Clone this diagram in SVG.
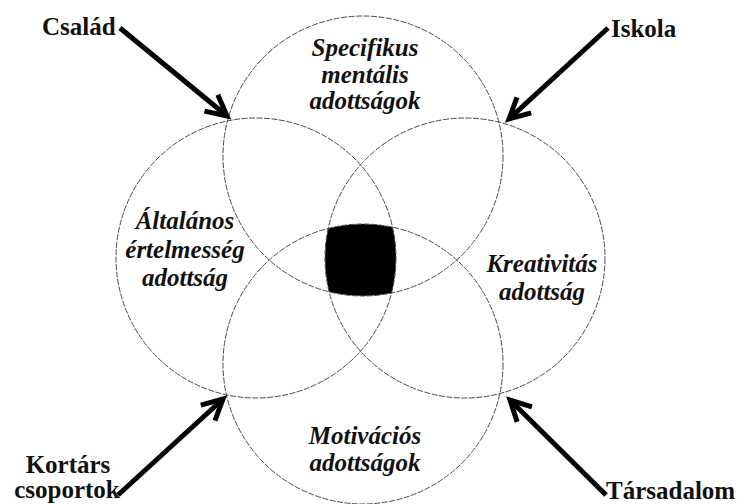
<svg xmlns="http://www.w3.org/2000/svg" width="742" height="504" viewBox="0 0 742 504">
  <style>
    .ring { fill: none; stroke: #4a4a4a; stroke-width: 1; stroke-dasharray: 6 1.5; }
    .inner { font-family: "Liberation Serif", "Times New Roman", serif; font-size: 25px; font-weight: bold; font-style: italic; fill: #111; text-anchor: middle; }
    .outer { font-family: "Liberation Serif", "Times New Roman", serif; font-size: 25px; font-weight: bold; fill: #111; }
    .arrow { fill: none; stroke: #000; stroke-width: 5; marker-end: url(#chev); }
  </style>
  <defs>
    <marker id="chev" markerUnits="userSpaceOnUse" markerWidth="40" markerHeight="40" refX="0" refY="0" orient="auto" viewBox="-30 -20 40 40" overflow="visible">
      <path d="M -20.5 -10.5 L 0 0 L -20.5 10.5" fill="none" stroke="#000" stroke-width="5" stroke-linejoin="miter" stroke-miterlimit="10"/>
    </marker>
    <clipPath id="clipTop"><circle cx="363" cy="156" r="140"/></clipPath>
    <clipPath id="clipLeft"><circle cx="256" cy="258" r="140"/></clipPath>
    <clipPath id="clipRight"><circle cx="465" cy="258" r="140"/></clipPath>
  </defs>
  <rect width="742" height="504" fill="#fff"/>

  <g id="core">
    <g clip-path="url(#clipTop)"><g clip-path="url(#clipLeft)"><g clip-path="url(#clipRight)">
      <circle cx="363" cy="364" r="140" fill="#000"/>
    </g></g></g>
  </g>

  <g id="specifikus">
    <circle class="ring" cx="363" cy="156" r="140"/>
    <text class="inner" x="365" y="56">Specifikus</text>
    <text class="inner" x="365" y="83">mentális</text>
    <text class="inner" x="365" y="109">adottságok</text>
  </g>
  <g id="altalanos">
    <circle class="ring" cx="256" cy="258" r="140"/>
    <text class="inner" x="185" y="229">Általános</text>
    <text class="inner" x="185" y="258">értelmesség</text>
    <text class="inner" x="185" y="286">adottság</text>
  </g>
  <g id="kreativitas">
    <circle class="ring" cx="465" cy="258" r="140"/>
    <text class="inner" x="542" y="272">Kreativitás</text>
    <text class="inner" x="542" y="300">adottság</text>
  </g>
  <g id="motivacios">
    <circle class="ring" cx="363" cy="364" r="140"/>
    <text class="inner" x="365" y="444">Motivációs</text>
    <text class="inner" x="365" y="471">adottságok</text>
  </g>

  <g id="csalad"><text class="outer" x="42" y="35">Család</text></g>
  <g id="iskola"><text class="outer" x="611" y="37">Iskola</text></g>
  <g id="kortars">
    <text class="outer" x="68" y="473" text-anchor="middle">Kortárs</text>
    <text class="outer" x="67" y="498" text-anchor="middle">csoportok</text>
  </g>
  <g id="tarsadalom"><text class="outer" x="606" y="499">Társadalom</text></g>

  <g id="connectors">
    <line class="arrow" x1="120" y1="28" x2="227" y2="116"/>
    <line class="arrow" x1="608" y1="28" x2="509" y2="119"/>
    <line class="arrow" x1="118" y1="495" x2="223" y2="399"/>
    <line class="arrow" x1="606" y1="495" x2="510" y2="400"/>
  </g>
</svg>
